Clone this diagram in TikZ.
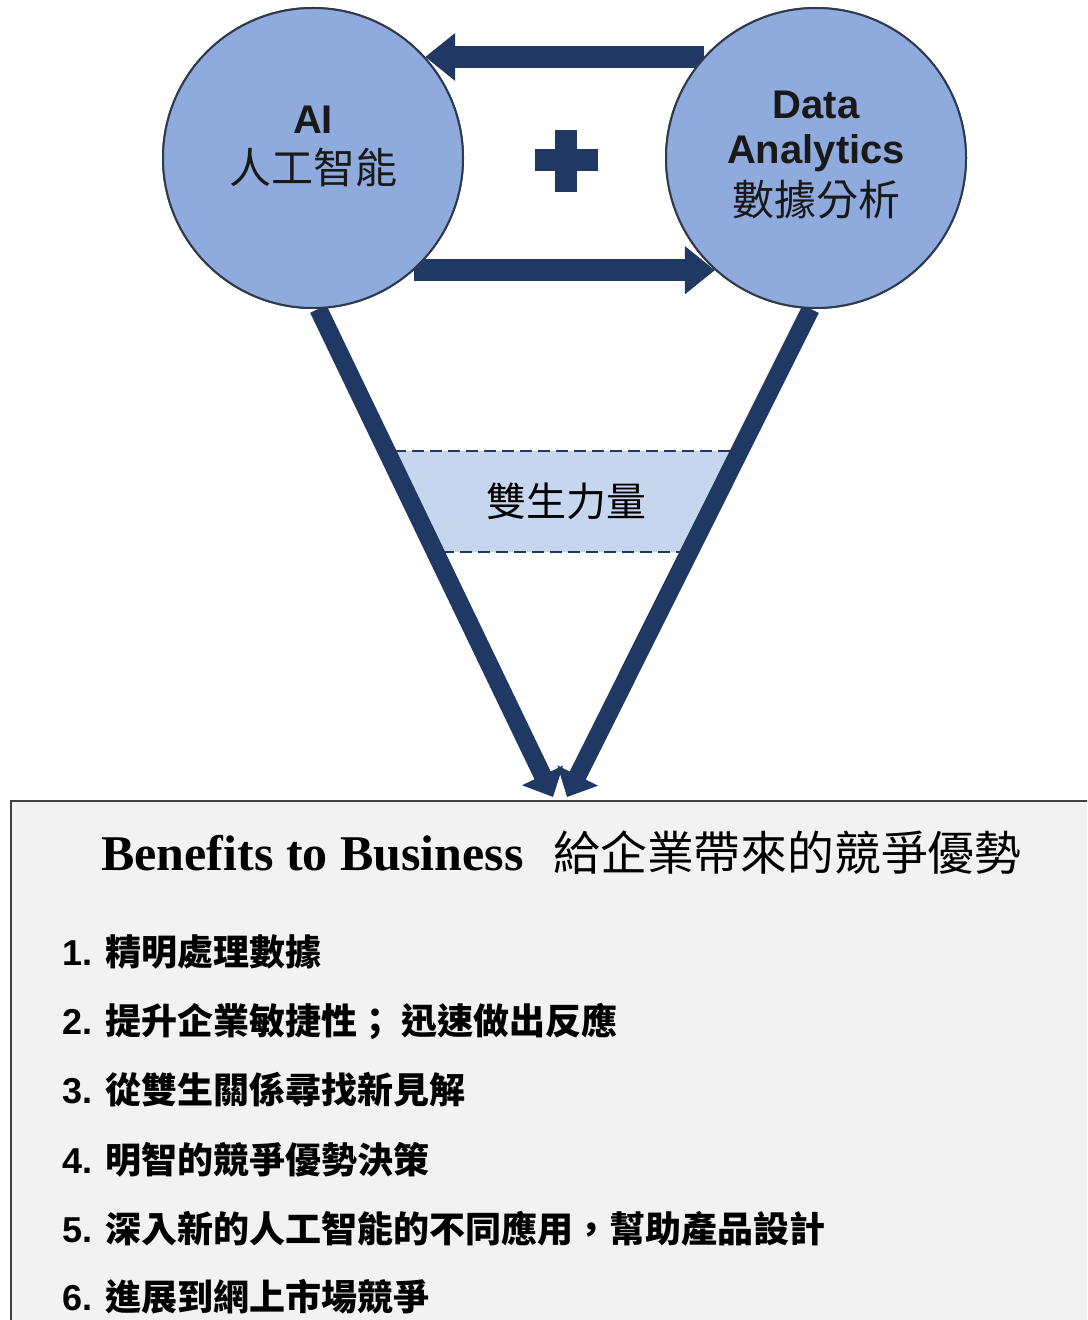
\documentclass[tikz,border=0pt]{standalone}
\usepackage{fontspec}
\setmainfont{Liberation Sans}
\newfontfamily\cjk{Noto Sans CJK TC}
\newfontfamily\titleserif{Liberation Serif}
\usetikzlibrary{arrows.meta,calc}

\definecolor{navy}{HTML}{1F3864}
\definecolor{circfill}{HTML}{8FAADC}
\definecolor{circline}{HTML}{2F3B4C}
\definecolor{bandfill}{HTML}{C6D6EF}
\definecolor{boxfill}{HTML}{F2F2F2}
\definecolor{boxline}{HTML}{404040}

\tikzset{
  hub/.style={circle, draw=circline, line width=1pt, fill=circfill,
    minimum size=150pt, inner sep=0pt},
  hubword/.style={inner sep=0pt, text=black!90,
    font=\bfseries\fontsize{20pt}{24pt}\selectfont},
  hubzh/.style={inner sep=0pt, text=black!90,
    font=\cjk\fontsize{21pt}{24pt}\selectfont},
  linkarrow/.style={draw=navy, line width=11pt,
    -{Triangle[length=15pt, width=23pt, color=navy]}},
  feedarrow/.style={draw=navy, line width=9pt,
    -{Triangle[length=12pt, width=22pt, color=navy]}},
  bandline/.style={draw=navy, line width=1pt, dash pattern=on 6pt off 3pt},
  benefitbox/.style={draw=boxline, line width=1.2pt, fill=boxfill,
    anchor=north west, minimum width=545pt, minimum height=270pt, inner sep=0pt},
  item/.style={anchor=west, inner sep=0pt,
    font=\bfseries\fontsize{18pt}{20pt}\selectfont}
}

\begin{document}
\begin{tikzpicture}[x=0.5pt, y=-0.5pt]
  \useasboundingbox (0,0) rectangle (1087,1320);
  \clip (0,0) rectangle (1087,1320);
  \fill[white] (0,0) rectangle (1087,1320);

  % the two hubs (placed first so connectors can refer to them)
  \node[hub] (ai) at (313,158) {};
  \node[hub] (da) at (816,158) {};

  % benefits panel
  \node[benefitbox] (box) at (10,800) {};
  \coordinate (tipL) at (553,797);
  \coordinate (tipR) at (567,797);

  % band between the two converging arrows
  \fill[bandfill] (384.5,451) -- (742.5,451) -- (691.3,552) -- (434,552) -- cycle;
  \draw[bandline] (394,451) -- (732,451);
  \draw[bandline] (442,552) -- (680,552);
  \node[inner sep=0pt, font=\cjk\fontsize{20pt}{22pt}\selectfont] (band) at (566,501) {雙生力量};

  % connectors
  \draw[linkarrow] (da.138) -- (ai.42);
  \draw[linkarrow] (ai.-48) -- (da.228);
  \draw[feedarrow] (ai.-88) -- (tipL);
  \draw[feedarrow] (da.-92) -- (tipR);

  % hubs redrawn on top of the connector ends
  \node[hub] at (ai) {};
  \node[hub] at (da) {};
  \node[hubword] (aiEn) at (313,120) {AI};
  \node[hubzh] (aiZh) at (313,168) {人工智能};
  \node[hubword] (daEn1) at (816,105) {Data};
  \node[hubword] (daEn2) at (816,153) {Analytics};
  \node[hubzh] (daZh) at (816,200) {數據分析};

  % plus sign between the hubs
  \fill[navy] (535,149) rectangle (598,171);
  \fill[navy] (555,130) rectangle (577,192);

  % panel heading
  \node[anchor=west, inner sep=0pt, font=\titleserif\bfseries\fontsize{25pt}{27pt}\selectfont]
    (titleEn) at (101,853) {Benefits to Business};
  \node[anchor=west, inner sep=0pt, font=\cjk\fontsize{23.4pt}{25pt}\selectfont]
    (titleZh) at (553,853) {給企業帶來的競爭優勢};

  % list of benefits
  \node[item] (b1) at (62,952)  {1. {\cjk 精明處理數據}};
  \node[item] (b2) at (62,1021) {2. {\cjk 提升企業敏捷性； 迅速做出反應}};
  \node[item] (b3) at (62,1090) {3. {\cjk 從雙生關係尋找新見解}};
  \node[item] (b4) at (62,1160) {4. {\cjk 明智的競爭優勢決策}};
  \node[item] (b5) at (62,1229) {5. {\cjk 深入新的人工智能的不同應用，幫助產品設計}};
  \node[item] (b6) at (62,1297) {6. {\cjk 進展到網上市場競爭}};
\end{tikzpicture}
\end{document}
